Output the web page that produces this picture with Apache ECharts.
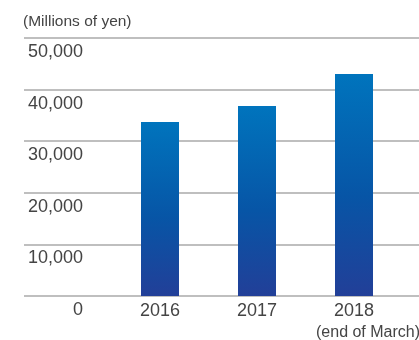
<!DOCTYPE html>
<html><head><meta charset="utf-8">
<script src="https://cdn.jsdelivr.net/npm/echarts@6/dist/echarts.min.js"></script>
<style>html,body{margin:0;padding:0;background:#fff}#c{width:419px;height:340px}</style>
</head><body><div id="c"></div>
<script>
const categories = ['2016', '2017', '2018'];
const values = [33700, 36800, 43000];
const yTicks = [0, 10000, 20000, 30000, 40000, 50000];
const unitLabel = '(Millions of yen)';
const periodNote = '(end of March)';

const FONT = 'Liberation Sans, Arial, Helvetica, sans-serif';
const chart = echarts.init(document.getElementById('c'), null, {renderer: 'canvas'});
const fmt = v => v === 0 ? '0' : v.toLocaleString('en-US');
const yMin = yTicks[0], yMax = yTicks[yTicks.length - 1], yStep = yTicks[1] - yTicks[0];

chart.setOption({
  animation: false,
  graphic: [
    {type: 'text', left: 23, top: 14, style: {text: unitLabel, font: '15.5px ' + FONT, fill: '#444'}},
    {type: 'text', left: 316, top: 325, style: {text: periodNote, font: '16px ' + FONT, fill: '#444'}}
  ],
  grid: [
    {left: 24, right: 0, top: 38, bottom: 44},
    {left: 111.5, right: 16.5, top: 38, bottom: 44}
  ],
  xAxis: [
    {gridIndex: 0, type: 'value', show: false, min: 0, max: 1},
    {gridIndex: 1, type: 'category', data: categories,
     axisLine: {show: false}, axisTick: {show: false},
     axisLabel: {fontSize: 18, fontFamily: FONT, color: '#444', margin: 6}}
  ],
  yAxis: [
    {gridIndex: 0, type: 'value', min: yMin, max: yMax, interval: yStep,
     axisLine: {show: false}, axisTick: {show: false},
     splitLine: {show: true, lineStyle: {color: '#aaaaaa', width: 1.5}},
     axisLabel: {inside: true, align: 'right', verticalAlign: 'top', margin: 59,
       padding: [5, 0, 0, 0], fontSize: 18, fontFamily: FONT, color: '#444',
       formatter: fmt}},
    {gridIndex: 1, type: 'value', min: yMin, max: yMax, interval: yStep, show: false,
     splitLine: {show: false}}
  ],
  series: [{
    type: 'bar', xAxisIndex: 1, yAxisIndex: 1, data: values, barWidth: 38,
    itemStyle: {color: new echarts.graphic.LinearGradient(0, 0, 0, 1, [
      {offset: 0, color: '#0074bd'},
      {offset: 0.55, color: '#0755a6'},
      {offset: 1, color: '#223f98'}
    ])}
  }]
});
</script></body></html>
